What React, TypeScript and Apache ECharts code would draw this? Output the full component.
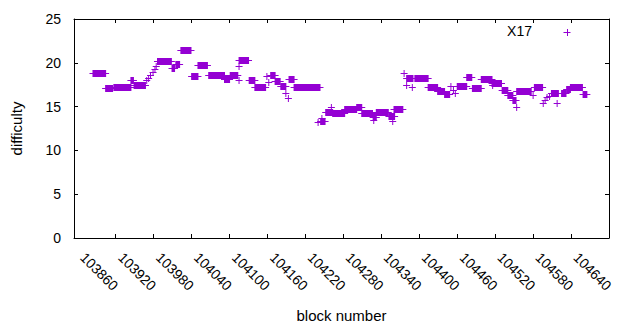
import React, { useEffect, useRef } from "react";
import * as echarts from "echarts";

// Segments of the "X17" difficulty series: each row is [first block, last block, difficulty]
// (a single point has first block = last block)
const segStart = [
  103824, 103844, 103857, 103884, 103889, 103909, 103912, 103915, 103919, 103922,
  103924, 103926, 103949, 103955, 103963, 103980, 103990, 104007, 104032, 104041,
  104055, 104055, 104055, 104071, 104080, 104099, 104102, 104105, 104112, 104121,
  104129, 104133, 104134, 104142, 104180, 104184, 104186, 104192, 104201, 104203,
  104222, 104241, 104249, 104267, 104268, 104272, 104292, 104298, 104300, 104316,
  104320, 104333, 104320, 104329, 104354, 104369, 104380, 104390, 104394, 104397,
  104400, 104415, 104424, 104438, 104455, 104456, 104471, 104480, 104488, 104494,
  104494, 104520, 104522, 104536, 104539, 104542, 104546, 104549, 104558, 104565,
  104573, 104579, 104599,
];
const segEnd = [
  103844, 103855, 103884, 103888, 103907, 103909, 103912, 103915, 103919, 103922,
  103924, 103948, 103953, 103961, 103979, 103990, 104005, 104032, 104040, 104053,
  104055, 104055, 104070, 104080, 104097, 104099, 104102, 104112, 104120, 104129,
  104129, 104133, 104142, 104183, 104180, 104191, 104186, 104203, 104201, 104222,
  104241, 104249, 104266, 104272, 104268, 104291, 104301, 104298, 104314, 104316,
  104330, 104354, 104320, 104329, 104369, 104380, 104388, 104390, 104394, 104397,
  104415, 104423, 104438, 104455, 104470, 104456, 104480, 104488, 104493, 104494,
  104517, 104520, 104535, 104536, 104539, 104542, 104546, 104560, 104558, 104572,
  104579, 104598, 104605,
];
const segValue = [
  18.84, 17.1, 17.25, 18.0, 17.45, 18.05, 18.3, 18.6, 18.9, 19.3,
  19.6, 20.2, 19.4, 19.9, 21.45, 18.5, 19.75, 18.6, 18.15, 18.6,
  19.66, 18.0, 20.3, 18.05, 17.25, 18.45, 17.77, 18.6, 17.9, 17.3,
  16.55, 16.0, 18.15, 17.24, 13.2, 13.4, 13.7, 14.42, 14.95, 14.27,
  14.72, 14.9, 14.27, 13.8, 13.5, 14.42, 13.96, 13.3, 14.72, 18.85,
  18.3, 18.26, 17.45, 17.25, 17.22, 16.78, 16.4, 17.3, 16.85, 16.5,
  17.33, 18.35, 17.15, 18.15, 17.73, 17.5, 16.85, 16.3, 15.8, 15.0,
  16.81, 16.3, 17.22, 15.45, 15.8, 16.05, 16.2, 16.5, 15.4, 16.55,
  17.06, 17.24, 16.43,
];

const xTickValues = [
  103860, 103920, 103980, 104040, 104100, 104160, 104220, 104280, 104340,
  104400, 104460, 104520, 104580, 104640,
];
const seriesName = "X17";
const xMin = 103794;
const xMax = 104640;

const PURPLE = "#9400d3";
const FONT = "Liberation Sans";

export default function App() {
  const ref = useRef<HTMLDivElement>(null);
  useEffect(() => {
    if (!ref.current) return;
    const chart = echarts.init(ref.current, null, { renderer: "svg" });
    const data = segStart.map((s, i) => [s, segEnd[i], segValue[i]]);
    const half = 3.5;
    const axisLineStyle = { color: "#000", width: 1 };
    chart.setOption({
      animation: false,
      backgroundColor: "#fff",
      grid: { left: 74, right: 31, top: 19, bottom: 92 },
      xAxis: [
        {
          type: "value",
          min: xMin,
          max: xMax,
          name: "block number",
          nameLocation: "middle",
          nameGap: 70,
          nameTextStyle: { fontFamily: FONT, fontSize: 15, color: "#000" },
          axisLine: { show: true, lineStyle: axisLineStyle },
          axisTick: { show: true, inside: true, length: 4, customValues: xTickValues, lineStyle: axisLineStyle },
          axisLabel: {
            customValues: xTickValues,
            formatter: (v: number) => String(v),
            rotate: -45,
            align: "right",
            verticalAlign: "middle",
            margin: 50,
            fontFamily: FONT,
            fontSize: 14,
            color: "#000",
          },
          splitLine: { show: false },
        },
        {
          type: "value",
          position: "top",
          min: xMin,
          max: xMax,
          axisLine: { show: true, onZero: false, lineStyle: axisLineStyle },
          axisTick: { show: true, inside: true, length: 4, customValues: xTickValues, lineStyle: axisLineStyle },
          axisLabel: { show: false },
          splitLine: { show: false },
        },
      ],
      yAxis: [
        {
          type: "value",
          min: 0,
          max: 25,
          interval: 5,
          name: "difficulty",
          nameLocation: "middle",
          nameGap: 50,
          nameTextStyle: { fontFamily: FONT, fontSize: 15, color: "#000" },
          axisLine: { show: true, lineStyle: axisLineStyle },
          axisTick: { show: true, inside: true, length: 4, lineStyle: axisLineStyle },
          axisLabel: { margin: 13, fontFamily: FONT, fontSize: 14, color: "#000" },
          splitLine: { show: false },
        },
        {
          type: "value",
          position: "right",
          min: 0,
          max: 25,
          interval: 5,
          axisLine: { show: true, onZero: false, lineStyle: axisLineStyle },
          axisTick: { show: true, inside: true, length: 4, lineStyle: axisLineStyle },
          axisLabel: { show: false },
          splitLine: { show: false },
        },
      ],
      graphic: [
        {
          type: "text",
          right: 640 - 532,
          top: 24,
          style: { text: seriesName, fontFamily: FONT, fontSize: 14, fill: "#000" },
        },
        {
          type: "line",
          shape: { x1: 563.5, y1: 32.5, x2: 570.5, y2: 32.5 },
          style: { stroke: PURPLE, lineWidth: 1 },
        },
        {
          type: "line",
          shape: { x1: 567.5, y1: 29, x2: 567.5, y2: 36 },
          style: { stroke: PURPLE, lineWidth: 1 },
        },
      ],
      series: [
        {
          type: "custom",
          name: seriesName,
          xAxisIndex: 0,
          yAxisIndex: 0,
          encode: { x: [0, 1], y: 2 },
          data,
          renderItem: (params: any, api: any) => {
            const p0 = api.coord([api.value(0), api.value(2)]);
            const p1 = api.coord([api.value(1), api.value(2)]);
            const y = Math.round(p0[1]) + 0.5;
            return {
              type: "group",
              children: [
                {
                  type: "rect",
                  shape: {
                    x: p0[0] - 0.5,
                    y: y - half,
                    width: Math.max(1, p1[0] - p0[0] + 1),
                    height: half * 2,
                  },
                  style: { fill: PURPLE },
                },
                {
                  type: "line",
                  shape: { x1: p0[0] - half, y1: y, x2: p1[0] + half, y2: y },
                  style: { stroke: PURPLE, lineWidth: 1 },
                },
              ],
            };
          },
        },
      ],
    });
    return () => chart.dispose();
  }, []);
  return (
    <div
      ref={ref}
      style={{ position: "fixed", left: 0, top: 0, width: 640, height: 330 }}
    />
  );
}
